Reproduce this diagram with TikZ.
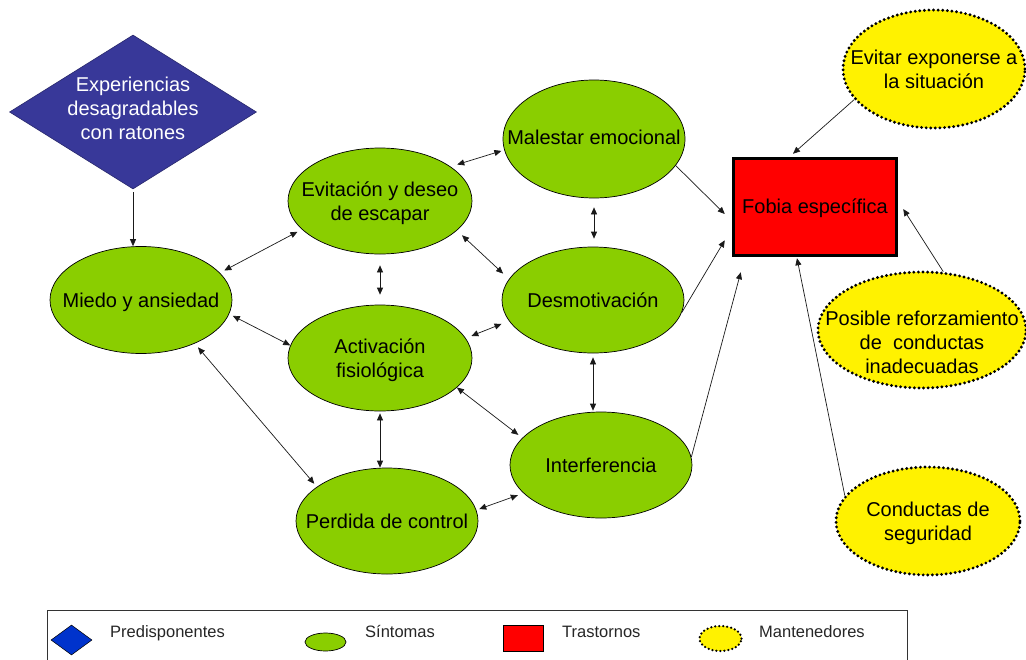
\documentclass[tikz,border=0pt]{standalone}
\usepackage{fontspec}
\setmainfont{Liberation Sans}
\usetikzlibrary{shapes.geometric,arrows.meta}
\definecolor{symgreen}{HTML}{8ACE00}
\definecolor{predblue}{HTML}{383899}
\definecolor{legblue}{HTML}{0033CC}
\newcommand\lbl[2][0pt]{\makebox[0pt]{\smash{\raisebox{\dimexpr#1-8pt\relax}{\begin{tabular}{@{}c@{}}#2\end{tabular}}}}}
\tikzset{
  txt/.style={font=\fontsize{20}{24}\selectfont},
  sym/.style={ellipse, draw=black, line width=0.7pt, fill=symgreen, inner sep=0pt, txt, text=black},
  mant/.style={ellipse, draw=black, fill=yellow, line width=3.2pt, dash pattern=on 0pt off 4.6pt, line cap=round, inner sep=0pt, txt, text=black},
  pred/.style={diamond, draw=predblue!70!black, line width=0.6pt, fill=predblue, inner sep=0pt, txt, text=white},
  tras/.style={rectangle, draw=black, line width=3.5pt, fill=red, inner sep=0pt, txt, text=black},
  arr/.style={-{Triangle[length=7pt,width=6pt]}, line width=0.7pt, draw=black!90},
  dbl/.style={{Triangle[length=7pt,width=6pt]}-{Triangle[length=7pt,width=6pt]}, line width=0.7pt, draw=black!90},
  sh/.style 2 args={shorten <=#1pt, shorten >=#2pt},
  legtxt/.style={font=\fontsize{16.5}{20}\selectfont, inner sep=0pt, text=black!85, anchor=base west},
}
\begin{document}
\begin{tikzpicture}[x=1pt,y=-1pt]
\fill[white] (0,0) rectangle (1026,659);
\useasboundingbox (0,0) rectangle (1026,659);

% nodes
\node[pred, minimum width=247pt, minimum height=154pt] (exp) at (133,112) {\lbl[4pt]{Experiencias\\desagradables\\con ratones}};
\node[sym, minimum width=182pt, minimum height=107pt] (mied) at (141,300) {\lbl{Miedo y ansiedad}};
\node[sym, minimum width=184pt, minimum height=106pt] (evit) at (380,201) {\lbl{Evitación y deseo\\de escapar}};
\node[sym, minimum width=182pt, minimum height=118pt] (mal) at (594,139) {\lbl[2pt]{Malestar emocional}};
\node[sym, minimum width=182pt, minimum height=106pt] (desm) at (593,300) {\lbl{Desmotivación}};
\node[sym, minimum width=184pt, minimum height=106pt] (act) at (380,358) {\lbl{Activación\\fisiológica}};
\node[sym, minimum width=182pt, minimum height=106pt] (intf) at (601,465) {\lbl{Interferencia}};
\node[sym, minimum width=182pt, minimum height=106pt] (perd) at (387,521) {\lbl{Perdida de control}};
\node[tras, minimum width=163pt, minimum height=97pt] (fob) at (815,207) {\lbl[1pt]{Fobia específica}};
\node[mant, minimum width=182pt, minimum height=118pt] (evx) at (934,69) {\lbl{Evitar exponerse a\\la situación}};
\node[mant, minimum width=208pt, minimum height=116pt] (pos) at (922,330) {\lbl[-12pt]{Posible reforzamiento\\de\ \ conductas\\inadecuadas}};
\node[mant, minimum width=184pt, minimum height=108pt] (cond) at (928,521) {\lbl{Conductas de\\seguridad}};

% connectors among symptoms
\draw[arr, shorten <=3pt] (exp.south) -- (exp.south |- mied.north);
\draw[dbl, sh={5}{5}] (mied.19) -- (evit.200);
\draw[dbl, sh={4}{0}] (mied.-9) -- (act.172);
\draw[dbl, sh={5}{4}] (mied.-39) -- (perd.154);
\draw[dbl, sh={7}{3}] (evit.26) -- (mal.187);
\draw[dbl, sh={11}{10}] (evit.south) -- (act.north);
\draw[dbl, sh={7}{8}] (evit.-21) -- (desm.166);
\draw[dbl, sh={9}{8}] (mal.south) -- (mal.south |- desm.north);
\draw[dbl, sh={6}{8}] (act.13) -- (desm.194);
\draw[dbl, sh={0}{5}] (act.-21) -- (intf.161);
\draw[dbl, sh={2}{0}] (act.south) -- (act.south |- perd.north);
\draw[dbl, sh={4}{1}] (desm.south) -- (desm.south |- intf.north);
\draw[dbl, sh={3}{6}] (perd.7) -- (intf.200);

% connectors to the disorder
\draw[arr] (mal.-18) -- ([shift={(-7,7)}]fob.west);
\draw[arr] (desm.-8) -- ([shift={(-7,-17)}]fob.south west);
\draw[arr] (intf.5) -- ([shift={(9,15)}]fob.south west);
\draw[arr] (evx.201) -- ([shift={(-22,-3)}]fob.north);
\draw[arr] (pos.70) -- ([shift={(5,2)}]fob.east);
\draw[arr] (cond.163) -- ([shift={(-18,1)}]fob.south);

% legend
\draw[line width=0.8pt, black!80] (47,659.5) -- (47,610) -- (907,610) -- (907,659.5);
\node[diamond, fill=legblue, draw=black, line width=0.5pt, minimum width=41pt, minimum height=30pt, inner sep=0pt] (lpred) at (71.5,640) {};
\node[ellipse, fill=symgreen, draw=black, line width=0.7pt, minimum width=41pt, minimum height=18pt, inner sep=0pt] (lsym) at (325.5,642) {};
\node[rectangle, fill=red, draw=black, line width=0.8pt, minimum width=40pt, minimum height=26pt, inner sep=0pt] (ltra) at (523,638) {};
\node[ellipse, fill=yellow, draw=black, line width=2.5pt, dash pattern=on 0pt off 4pt, line cap=round, minimum width=42pt, minimum height=25pt, inner sep=0pt] (lman) at (720.5,638.5) {};
\node[legtxt] (tpred) at (110,637.7) {Predisponentes};
\node[legtxt] (tsym) at (365,637.7) {Síntomas};
\node[legtxt] (ttra) at (562,637.7) {Trastornos};
\node[legtxt] (tman) at (759,637.7) {Mantenedores};
\end{tikzpicture}
\end{document}
